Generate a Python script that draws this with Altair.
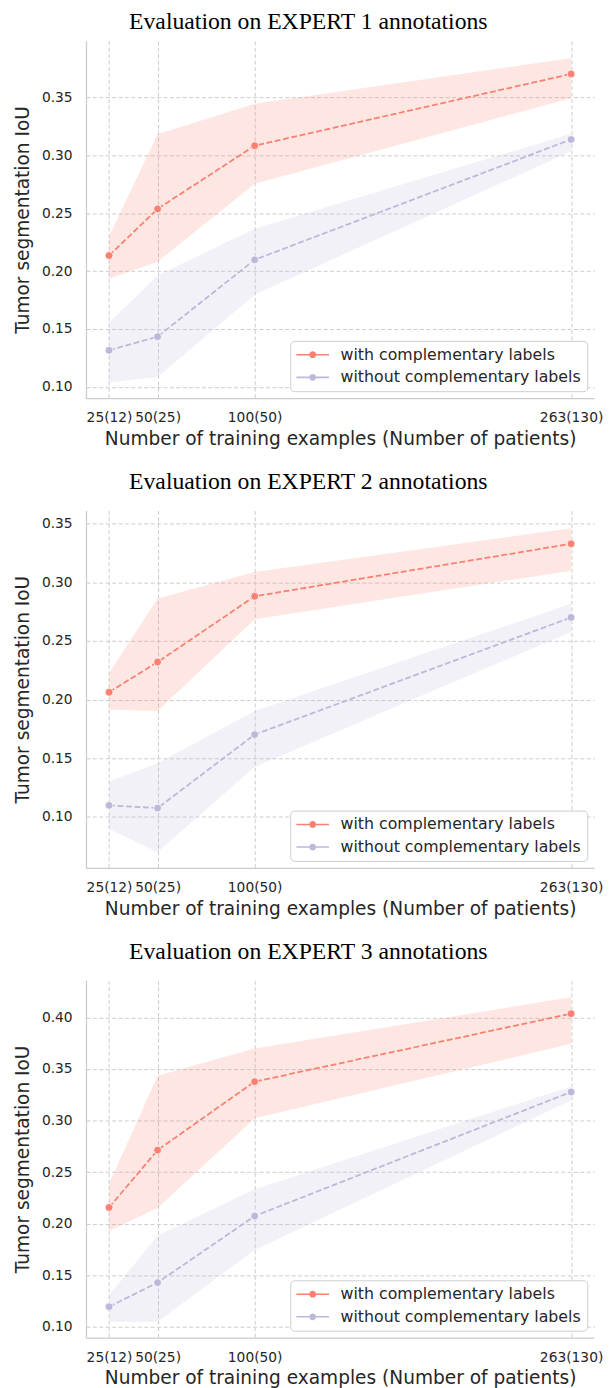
import altair as alt
import pandas as pd

# ---------------- data ----------------
n_examples = [25, 50, 100, 263]
tick_labels = ["25(12)", "50(25)", "100(50)", "263(130)"]
series_names = ["with complementary labels", "without complementary labels"]
series_colors = ["#fa8072", "#bcb8d9"]

titles = [
    "Evaluation on EXPERT 1 annotations",
    "Evaluation on EXPERT 2 annotations",
    "Evaluation on EXPERT 3 annotations",
]

# Expert 1
e1_with_mean = [0.2135, 0.2538, 0.3084, 0.3704]
e1_with_lo = [0.1934, 0.2081, 0.2756, 0.3495]
e1_with_hi = [0.2302, 0.3184, 0.3446, 0.3840]
e1_without_mean = [0.1316, 0.1434, 0.2098, 0.3138]
e1_without_lo = [0.1038, 0.1086, 0.1797, 0.3035]
e1_without_hi = [0.1555, 0.1963, 0.2366, 0.3187]

# Expert 2
e2_with_mean = [0.2063, 0.2320, 0.2880, 0.3327]
e2_with_lo = [0.1916, 0.1903, 0.2684, 0.3098]
e2_with_hi = [0.2227, 0.2861, 0.3087, 0.3459]
e2_without_mean = [0.1099, 0.1076, 0.1702, 0.2700]
e2_without_lo = [0.0898, 0.0701, 0.1426, 0.2576]
e2_without_hi = [0.1302, 0.1457, 0.1903, 0.2816]

# Expert 3
e3_with_mean = [0.2158, 0.2714, 0.3378, 0.4037]
e3_with_lo = [0.1929, 0.2154, 0.3022, 0.3744]
e3_with_hi = [0.2385, 0.3434, 0.3698, 0.4195]
e3_without_mean = [0.1196, 0.1430, 0.2075, 0.3278]
e3_without_lo = [0.1051, 0.1051, 0.1746, 0.3197]
e3_without_hi = [0.1309, 0.1883, 0.2335, 0.3332]

y_domains = [[0.0903, 0.3990], [0.0567, 0.3610], [0.0897, 0.4360]]
y_ticks = [
    [0.10, 0.15, 0.20, 0.25, 0.30, 0.35],
    [0.10, 0.15, 0.20, 0.25, 0.30, 0.35],
    [0.10, 0.15, 0.20, 0.25, 0.30, 0.35, 0.40],
]
x_domain = [13.1, 274.9]
title_offsets = [7, 17, 17]

panels = [
    (e1_with_mean, e1_with_lo, e1_with_hi, e1_without_mean, e1_without_lo, e1_without_hi),
    (e2_with_mean, e2_with_lo, e2_with_hi, e2_without_mean, e2_without_lo, e2_without_hi),
    (e3_with_mean, e3_with_lo, e3_with_hi, e3_without_mean, e3_without_lo, e3_without_hi),
]

# ---------------- helpers ----------------
label_expr = " : ".join(
    f"datum.value == {v} ? '{t}'" for v, t in zip(n_examples, tick_labels)
) + " : ''"

color_scale = alt.Scale(domain=series_names, range=series_colors)

legend_path = (
    "M-1,-0.1H0.68V0.1H-1Z "
    "M1.58,-0.1H3.26V0.1H1.58Z "
    "M0.68,0A0.45,0.45,0,1,0,1.58,0A0.45,0.45,0,1,0,0.68,0Z"
)

legend = alt.Legend(
    title=None,
    orient="bottom-right",
    offset=7,
    symbolType=legend_path,
    symbolSize=240,
    symbolStrokeWidth=0,
    symbolOpacity=1,
    labelOffset=29,
    rowPadding=7,
)


def make_panel(i):
    wm, wl, wh, om, ol, oh = panels[i]
    rows = []
    for name, m, lo, hi in [(series_names[0], wm, wl, wh), (series_names[1], om, ol, oh)]:
        for n, a, b, c in zip(n_examples, m, lo, hi):
            rows.append({"n": n, "series": name, "mean": a, "lo": b, "hi": c})
    df = pd.DataFrame(rows)

    x = alt.X(
        "n:Q",
        scale=alt.Scale(domain=x_domain, nice=False, zero=False),
        axis=alt.Axis(
            values=n_examples,
            labelExpr=label_expr,
            title="Number of training examples (Number of patients)",
        ),
    )
    yscale = alt.Scale(domain=y_domains[i], nice=False, zero=False)
    yaxis = alt.Axis(values=y_ticks[i], format=".2f", title="Tumor segmentation IoU")
    color = alt.Color("series:N", scale=color_scale, legend=legend)

    base = alt.Chart(df)
    band = base.mark_area(opacity=0.2).encode(
        x=x,
        y=alt.Y("lo:Q", scale=yscale, axis=yaxis),
        y2="hi:Q",
        color=color,
    )
    line = base.mark_line(strokeDash=[6, 2.6], strokeWidth=1.8).encode(
        x=x,
        y=alt.Y("mean:Q", scale=yscale, axis=yaxis),
        color=color,
    )
    pts = base.mark_point(
        filled=True, size=64, stroke="white", strokeWidth=0.8, opacity=1
    ).encode(
        x=x,
        y=alt.Y("mean:Q", scale=yscale, axis=yaxis),
        color=color,
    )
    return alt.layer(band, line, pts).properties(
        width=515,
        height=362,
        title=alt.TitleParams(titles[i], offset=title_offsets[i], frame="bounds"),
    )


chart = (
    alt.vconcat(make_panel(0), make_panel(1), make_panel(2), spacing=22)
    .resolve_legend(color="independent")
    .resolve_scale(y="independent")
    .properties(padding={"left": 5, "top": -7, "right": 5, "bottom": 5})
    .configure_view(stroke=None)
    .configure_axis(
        labelFont="DejaVu Sans",
        titleFont="DejaVu Sans",
        labelFontSize=14,
        titleFontSize=18.8,
        labelColor="#262626",
        titleColor="#262626",
        titleFontWeight="normal",
        domainColor="#cccccc",
        domainWidth=1.3,
        gridColor="#cccccc",
        gridDash=[4, 2.5],
        gridWidth=1,
        ticks=False,
        tickSize=0,
    )
    .configure_axisY(labelPadding=14, titlePadding=9)
    .configure_axisX(labelPadding=13, titlePadding=5)
    .configure_legend(
        labelFont="DejaVu Sans",
        labelFontSize=16,
        labelColor="#262626",
        strokeColor="#cccccc",
        fillColor="white",
        cornerRadius=4,
        padding=6,
        labelLimit=400,
    )
    .configure_title(
        font="Liberation Serif",
        fontSize=24,
        fontWeight="normal",
        color="black",
        anchor="middle",
    )
)

chart.save("out.html", embed_options={"renderer": "svg", "actions": False})
